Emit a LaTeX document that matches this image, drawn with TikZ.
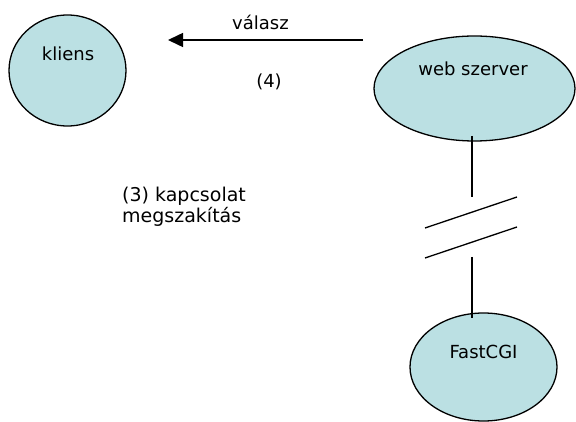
\documentclass[tikz,border=0pt]{standalone}
\usepackage{fontspec}
\setmainfont{DejaVu Sans}
\usetikzlibrary{shapes.geometric,arrows.meta}
\definecolor{nodefill}{RGB}{187,224,227}
\begin{document}
\begin{tikzpicture}[x=1pt,y=-1pt,
  lbl/.style={font=\fontsize{18}{21}\selectfont, inner sep=0pt, anchor=base},
  note/.style={font=\fontsize{19}{21}\selectfont, inner sep=0pt, anchor=base west},
  blob/.style={ellipse, draw=black, line width=1.3pt, fill=nodefill, inner sep=0pt},
  wire/.style={line width=1.5pt},
  slash/.style={line width=1.3pt}]
\useasboundingbox (0,0) rectangle (576,422);

% processes
\node[blob, minimum width=117pt, minimum height=111pt] (cl) at (67.5,70.5) {};
\node[blob, minimum width=201pt, minimum height=105pt] (ws) at (474.5,88.5) {};
\node[blob, minimum width=147pt, minimum height=108pt] (fc) at (483.5,367) {};

\node[lbl] (tcl) at (68,61) {kliens};
\node[lbl] (tws) at (473,76) {web szerver};
\node[lbl] (tfc) at (483.5,358) {FastCGI};

% response arrow
\coordinate (rs) at (363,40);
\coordinate (re) at (168,40);
\draw[wire, -{Triangle[length=15pt,width=14pt]}] (rs) -- (re);
\node[lbl] (tans) at (260.5,30) {válasz};
\node[lbl] (tfour) at (269,88) {(4)};

% interrupted connection
\coordinate (wtop) at (472,136);
\coordinate (wbrk1) at (472,197);
\coordinate (wbrk2) at (472,257);
\coordinate (wbot) at (472,318);
\draw[wire] (wtop) -- (wbrk1);
\draw[wire] (wbrk2) -- (wbot);
\coordinate (s1a) at (425,228);
\coordinate (s1b) at (517,197);
\coordinate (s2a) at (425,258);
\coordinate (s2b) at (517,227);
\draw[slash] (s1a) -- (s1b);
\draw[slash] (s2a) -- (s2b);

\node[note] (tcut1) at (122,202) {(3) kapcsolat};
\node[note] (tcut2) at (122,223) {megszakítás};
\end{tikzpicture}
\end{document}
